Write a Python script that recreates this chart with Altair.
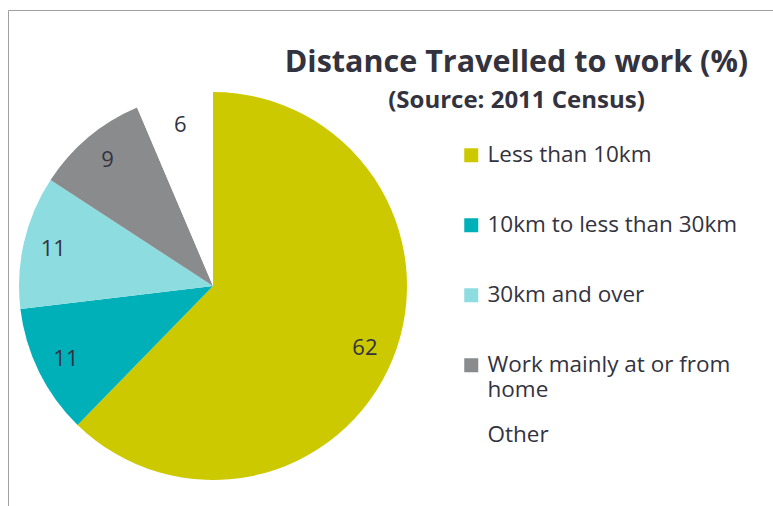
import altair as alt
import pandas as pd

categories = ["Less than 10km", "10km to less than 30km", "30km and over",
              "Work mainly at or from home", "Other"]
values = [62.3, 10.8, 11.1, 9.4, 6.4]
colors = ["#CCC900", "#00B0B9", "#8CDCE0", "#8A8B8D", "#FFFFFF"]

df = pd.DataFrame({"category": categories, "value": values,
                   "order": list(range(len(categories)))})

FONT = "Open Sans"
TXT = "#333340"

label_expr = (
    "datum.label == 'Work mainly at or from home' ? ['Work mainly at or from', 'home'] : "
    "datum.label == 'Other' ? datum.label : [datum.label, ' ']"
)

color = alt.Color(
    "category:N",
    scale=alt.Scale(domain=categories, range=colors),
    sort=categories,
    legend=alt.Legend(
        title=None, orient="none", legendX=452, legendY=134, padding=0,
        symbolType="square", symbolSize=196, symbolStrokeWidth=0,
        labelFontSize=22.5, labelFont=FONT, labelColor=TXT, labelOffset=5,
        rowPadding=22, labelLimit=400, labelExpr=label_expr,
    ),
)

base = alt.Chart(df).encode(
    theta=alt.Theta("value:Q", stack=True),
    order=alt.Order("order:Q"),
    x=alt.value(205),
    y=alt.value(276),
)

pie = base.mark_arc(outerRadius=194).encode(color=color)
labels = base.mark_text(radius=164, fontSize=22, font=FONT, color=TXT).encode(
    text=alt.Text("value:Q", format=".0f")
)

chart = (
    alt.layer(pie, labels)
    .properties(
        width=765, height=496,
        autosize=alt.AutoSizeParams(type="none"),
        padding={"left": 8, "top": 10, "right": 0, "bottom": 0},
        title=alt.Title(
            "Distance Travelled to work (%)",
            subtitle="(Source: 2011 Census)",
            font=FONT, subtitleFont=FONT, fontSize=30.5, subtitleFontSize=24,
            fontWeight="bold", subtitleFontWeight="bold",
            color=TXT, subtitleColor=TXT, anchor="middle",
            dx=126, dy=107, subtitlePadding=11,
        ),
    )
    .configure_view(stroke="#A0A0A0", strokeWidth=1)
)

chart.save("out.html", embed_options={"renderer": "svg", "actions": False})
